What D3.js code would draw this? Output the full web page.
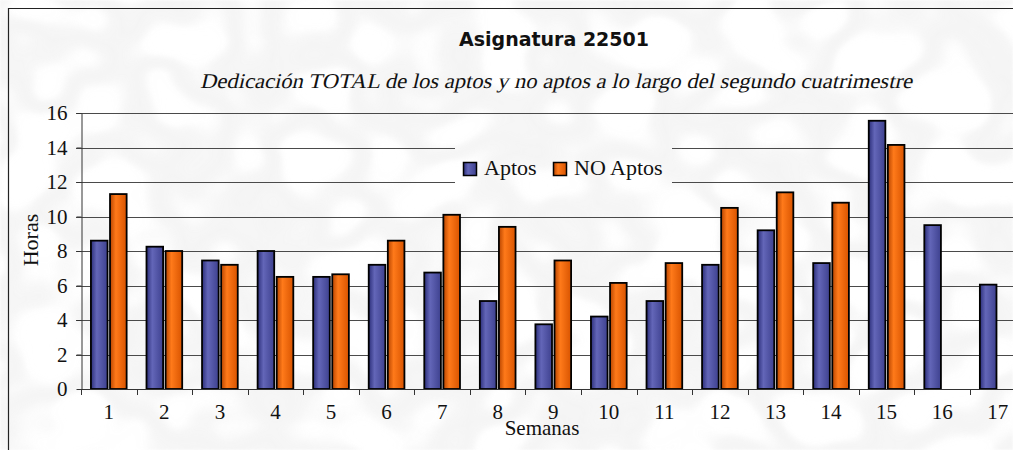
<!DOCTYPE html>
<html lang="es">
<head>
<meta charset="UTF-8">
<title>Asignatura 22501</title>
<script src="https://d3js.org/d3.v7.min.js"></script>
<style>
  body { margin: 0; background: #fff; }
  svg { display: block; }
</style>
</head>
<body>
<svg id="chart"></svg>
<script>
const weeks = ["1","2","3","4","5","6","7","8","9","10","11","12","13","14","15","16","17"];
const aptos   = [8.6, 8.25, 7.45, 8.0, 6.5, 7.2, 6.75, 5.1, 3.75, 4.2, 5.1, 7.2, 9.2, 7.3, 15.55, 9.5, 6.05];
const noAptos = [11.3, 8.0, 7.2, 6.5, 6.65, 8.6, 10.1, 9.4, 7.45, 6.15, 7.3, 10.5, 11.4, 10.8, 14.15, null, null];
const seriesNames = ["Aptos", "NO Aptos"];
const yTicks = [0, 2, 4, 6, 8, 10, 12, 14, 16];

const width = 1013, height = 450;
const svg = d3.select("#chart").attr("width", width).attr("height", height);
const defs = svg.append("defs");

// faded marble texture behind the chart
const marble = defs.append("filter").attr("id", "marble")
    .attr("x", 0).attr("y", 0).attr("width", "100%").attr("height", "100%");
marble.append("feTurbulence").attr("type", "fractalNoise")
    .attr("baseFrequency", "0.011 0.013").attr("numOctaves", 2).attr("seed", 7);
marble.append("feColorMatrix").attr("type", "matrix")
    .attr("values", "0 0 0 0 0.78  0 0 0 0 0.78  0 0 0 0 0.78  1 0 0 0 0");
marble.append("feComponentTransfer").append("feFuncA").attr("type", "table")
    .attr("tableValues", "0 0 0 0 0 0 0.05 0.45 0.55 0.45 0.05 0 0 0 0 0 0");
marble.append("feGaussianBlur").attr("stdDeviation", 1.2);

svg.append("rect").attr("width", width).attr("height", height).attr("fill", "#fff");
svg.append("rect").attr("width", width).attr("height", height)
    .attr("filter", "url(#marble)").attr("opacity", 0.7);

const colors = { "Aptos": ["#2c2f7a", "#6366b8", "#3e418f"], "NO Aptos": ["#b84500", "#ff7a1a", "#d95400"] };
seriesNames.forEach((s, i) => {
  const g = defs.append("linearGradient").attr("id", "grad" + i)
      .attr("x1", 0).attr("x2", 1).attr("y1", 0).attr("y2", 0);
  g.append("stop").attr("offset", "0%").attr("stop-color", colors[s][0]);
  g.append("stop").attr("offset", "35%").attr("stop-color", colors[s][1]);
  g.append("stop").attr("offset", "100%").attr("stop-color", colors[s][2]);
});

const x = d3.scaleBand().domain(weeks).range([81, 1025.5]);
const xs = d3.scaleBand().domain(seriesNames).range([0, x.bandwidth()])
    .paddingInner(0.13).paddingOuter(0.52);
const y = d3.scaleLinear().domain([0, 16]).range([389, 113]);

// gridlines, interrupted where the legend sits
const mask = defs.append("mask").attr("id", "legendHole").attr("maskUnits", "userSpaceOnUse");
mask.append("rect").attr("width", width).attr("height", height).attr("fill", "#fff");
mask.append("rect").attr("x", 455).attr("y", 125).attr("width", 217).attr("height", 75).attr("fill", "#000");

svg.append("g").attr("mask", "url(#legendHole)")
  .selectAll("line").data(yTicks.filter(d => d > 0)).join("line")
    .attr("x1", 76).attr("x2", width)
    .attr("y1", d => Math.round(y(d)) + 0.5).attr("y2", d => Math.round(y(d)) + 0.5)
    .attr("stroke", "#4a4a4a").attr("stroke-width", 1);

// bars
const rows = weeks.map((w, i) => ({ week: w, values: [aptos[i], noAptos[i]] }));
svg.append("g").selectAll("g").data(rows).join("g")
    .attr("transform", d => `translate(${x(d.week)},0)`)
  .selectAll("rect")
  .data(d => d.values.map((v, i) => ({ key: seriesNames[i], i, v })).filter(e => e.v != null))
  .join("rect")
    .attr("x", d => xs(d.key))
    .attr("y", d => y(d.v))
    .attr("width", xs.bandwidth())
    .attr("height", d => y(0) - y(d.v))
    .attr("fill", d => `url(#grad${d.i})`)
    .attr("stroke", "#000").attr("stroke-width", 1.8);

// y axis
const yAxis = svg.append("g").attr("transform", "translate(81.5,0)")
    .call(d3.axisLeft(y).tickValues(yTicks).tickSize(5).tickPadding(9).tickSizeOuter(0));
yAxis.select(".domain").attr("stroke", "#333");
yAxis.selectAll(".tick line").attr("stroke", "#333");
yAxis.selectAll("text").attr("font-family", "'Liberation Serif', 'Times New Roman', serif")
    .attr("font-size", 21).attr("fill", "#111");

// x axis
const xAxis = svg.append("g").attr("transform", "translate(0,389.5)")
    .call(d3.axisBottom(x).tickSize(0).tickPadding(15).tickSizeOuter(0));
xAxis.select(".domain").attr("stroke", "#333").attr("d", `M81,0H${width}`);
xAxis.selectAll("text").attr("font-family", "'Liberation Serif', 'Times New Roman', serif")
    .attr("font-size", 21).attr("fill", "#111");
svg.append("g").selectAll("line").data(weeks.map(w => x(w))).join("line")
    .attr("x1", d => Math.round(d) + 0.5).attr("x2", d => Math.round(d) + 0.5)
    .attr("y1", 389).attr("y2", 395).attr("stroke", "#333");

// axis titles
svg.append("text").attr("x", 542).attr("y", 435).attr("text-anchor", "middle")
    .attr("font-family", "'Liberation Serif', serif").attr("font-size", 21).attr("fill", "#111")
    .text("Semanas");
svg.append("text").attr("transform", "translate(38,240) rotate(-90)").attr("text-anchor", "middle")
    .attr("font-family", "'Liberation Serif', serif").attr("font-size", 22).attr("fill", "#111")
    .text("Horas");

// titles
svg.append("text").attr("x", 554).attr("y", 46).attr("text-anchor", "middle")
    .attr("font-family", "'DejaVu Sans', Verdana, sans-serif").attr("font-weight", "bold")
    .attr("font-size", 19).attr("fill", "#111")
    .text("Asignatura 22501");
svg.append("text").attr("transform", "translate(200,88) skewX(-13)")
    .attr("font-family", "'Liberation Serif', serif")
    .attr("font-size", 21).attr("fill", "#111")
    .attr("textLength", 712).attr("lengthAdjust", "spacingAndGlyphs")
    .text("Dedicación TOTAL de los aptos y no aptos a lo largo del segundo cuatrimestre");

// legend
const legend = svg.append("g").attr("transform", "translate(463,162)");
const legendX = [0, 90];
const li = legend.selectAll("g").data(seriesNames).join("g")
    .attr("transform", (d, i) => `translate(${legendX[i]},0)`);
li.append("rect").attr("x", 0.5).attr("y", 0.5).attr("width", 13).attr("height", 13)
    .attr("fill", (d, i) => `url(#grad${i})`).attr("stroke", "#000").attr("stroke-width", 1.5);
li.append("text").attr("x", 21).attr("y", 12.5)
    .attr("font-family", "'Liberation Serif', serif").attr("font-size", 22).attr("fill", "#111")
    .text(d => d);

// chart frame (cropped at right and bottom)
svg.append("path").attr("d", "M8.5,450V8.5H1013").attr("fill", "none")
    .attr("stroke", "#222").attr("stroke-width", 1.2);
</script>
</body>
</html>
